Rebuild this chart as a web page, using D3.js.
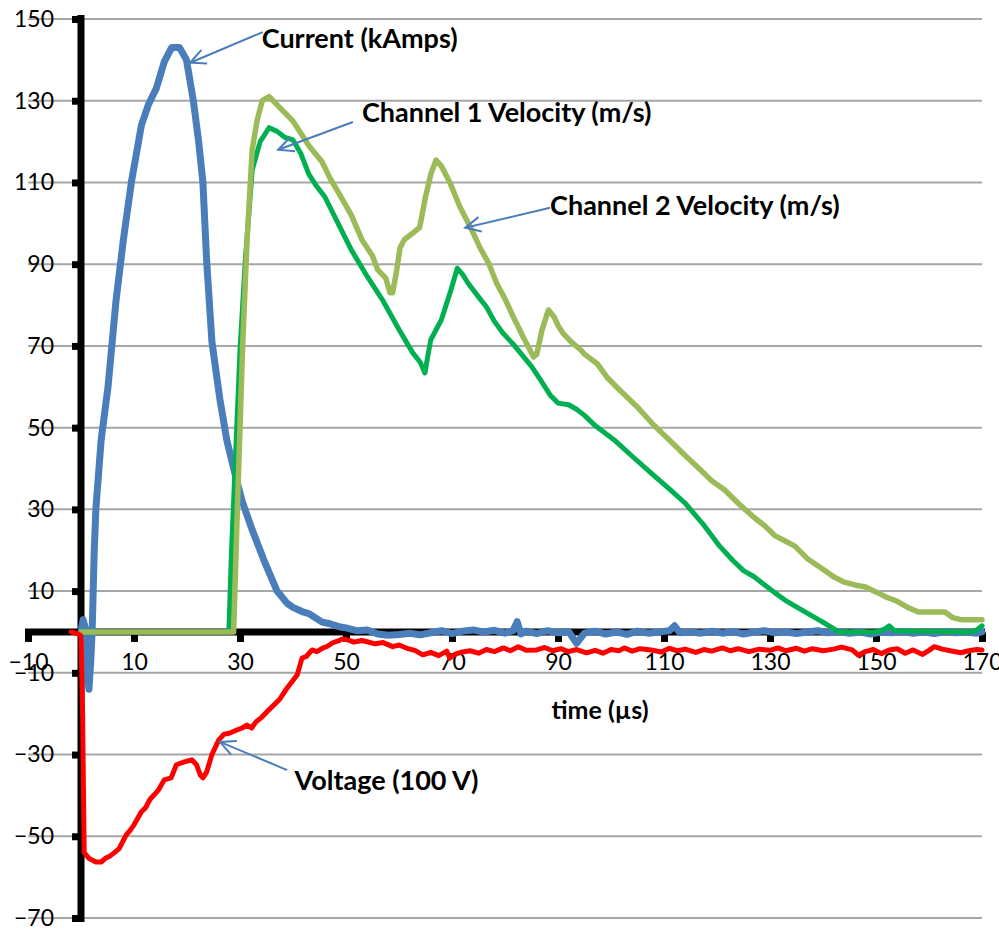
<!DOCTYPE html>
<html>
<head>
<meta charset="utf-8">
<script src="https://cdn.jsdelivr.net/npm/d3@7/dist/d3.min.js"></script>
<style>
    html, body { margin: 0; padding: 0; background: #fff; }
    svg { display: block; font-family: Lato, 'Open Sans', sans-serif; }
</style>
</head>
<body>
<div id="chart"></div>
<script>
(function () {
    'use strict';

    // [time (us), value]
    var current = [
        [0, 0], [0.4, 3], [0.8, 1], [1.2, -10], [1.5, -14], [1.8, -8], [2.1, 0], [2.5, 20], [2.8, 30],
        [3.8, 47], [5.1, 60], [6.6, 81], [8, 96], [9.5, 110], [11.4, 124], [12.7, 129], [14.2, 133],
        [15.7, 139.5], [17.1, 143], [18.6, 143], [19.9, 140], [21.2, 130], [22.2, 120], [23, 110],
        [23.7, 91], [24.7, 71], [26.2, 57], [27.5, 47], [28.8, 40], [30.4, 32], [32.3, 25], [34.5, 17.6],
        [37, 10], [38.9, 7], [40, 6], [41.7, 5], [43, 4.5], [45.5, 2.4], [47, 2], [49, 1.2], [50, 1],
        [52, 0.3], [54, 0.5], [56, -0.5], [58, -0.8], [60, -0.6], [62, -0.3], [64, -0.7], [66, -0.2],
        [68, 0.3], [70, -0.4], [72, 0.2], [74, 0.5], [76, 0], [78, 0.4], [80, -0.3], [81.5, 0.3],
        [82.3, 2.5], [83, -0.5], [84, 0.2], [86, -0.4], [88, 0.3], [90, -0.2], [92, 0.1], [93.5, -2.8],
        [95, -0.3], [97, 0.2], [99, -0.5], [101, 0], [103, -0.6], [105, 0.2], [107, -0.3], [109, 0],
        [111, 0.3], [112, 1.5], [113, -0.2], [115, 0], [117, -0.3], [119, 0.2], [121, -0.3], [123, 0.1],
        [125, -0.5], [127, 0], [129, 0.3], [131, -0.2], [133, 0], [135, -0.4], [137, 0], [139, 0.3],
        [141, -0.2], [143, 0.1], [145, -0.3], [147, 0], [149, -0.5], [151, 0], [153, -0.2], [155, 0.1],
        [157, -0.3], [159, 0], [161, -0.4], [163, 0.1], [165, -0.2], [167, 0], [169, -0.3], [170, 0]
    ];

    var channel1 = [
        [0, 0], [27.9, 0], [28.4, 20], [28.8, 32], [30, 69], [31, 91], [32.3, 113], [33.8, 120],
        [35.5, 123.4], [37, 122.5], [38.5, 121], [40, 120.4], [41.5, 117], [43, 112], [44.5, 109],
        [46, 106.5], [48.5, 100], [51, 93.5], [54, 87], [57, 81], [60, 74], [62.6, 68.3], [64, 66],
        [64.9, 63.4], [65.5, 68], [66, 71.5], [68, 76.4], [69.8, 83.7], [71, 89], [72, 87.5], [73, 85.4],
        [75, 82], [76.5, 79.5], [78, 76], [79.7, 73], [81.5, 70.5], [82.9, 68.3], [85, 65], [86.7, 61.7],
        [88.5, 58], [90, 56], [92, 55.6], [93.5, 54.5], [95, 53], [97, 50.5], [100.6, 47], [104, 43],
        [108, 38.4], [111, 35], [114, 31.5], [117.6, 26], [120.5, 21], [123, 17.5], [125, 15],
        [127, 13.5], [129, 11.5], [131, 9.5], [132.8, 7.8], [134.5, 6.5], [136.6, 4.9], [138.5, 3.5],
        [140.5, 2], [143, 0], [150, 0], [151.5, 0.6], [152.5, 1.5], [153.5, 0.3], [168, 0], [169, 0.5],
        [170, 1.5]
    ];

    var channel2 = [
        [0, 0], [28.8, 0], [29.5, 30], [30.5, 70], [31.3, 95], [32.3, 118], [33.2, 125], [34.2, 130],
        [35.5, 131], [37, 129], [38.5, 127], [40, 125], [41, 123], [43, 119], [45.5, 115], [47, 111],
        [48.8, 107], [51, 102], [53, 96], [55, 92], [56, 88.6], [57.5, 86.6], [58.3, 83], [58.8, 83],
        [59.5, 88], [60.2, 94], [61, 96], [62.5, 97.5], [63.9, 99], [65, 106.5], [66, 112], [67, 115.5],
        [68, 114], [69.6, 110], [71.5, 104], [73.5, 99], [75.3, 94], [77, 90], [78.4, 85.4], [80, 81.5],
        [81.6, 77], [83.5, 72], [85.4, 67.3], [86, 68], [87, 74], [88.2, 78.8], [89.3, 77], [90, 75],
        [91, 73], [92.5, 71], [94.3, 69], [95, 68], [96, 67], [97.5, 65.5], [99.2, 62.4], [101, 60],
        [103, 57.5], [105, 55], [108, 50.7], [111, 47], [113.9, 43.3], [117, 39.5], [119, 37],
        [121.4, 34.8], [124, 31.5], [127, 28], [129, 26], [131, 23.5], [132.5, 22.5], [134.7, 21],
        [137, 18], [140.4, 15], [142, 13.5], [144, 12.2], [146, 11.5], [148, 11], [150.5, 9.5], [152, 8.5],
        [154, 7.5], [156, 6], [158, 4.9], [160, 4.9], [163, 4.9], [164.5, 3.5], [166, 3], [170, 3]
    ];

    var voltage = [
        [-1.9, 0], [-0.5, -0.5], [0, -1], [0.3, -20], [0.6, -54], [1.5, -55.4], [2.8, -56.3], [3.8, -56.3],
        [4.7, -55.3], [5.5, -54.8], [6.3, -54], [7.2, -53], [8.5, -49.7], [9.3, -48.5], [10, -47.2],
        [11.4, -44], [12.2, -43], [13, -41], [14.6, -38.7], [15.7, -36.2], [17, -35.7], [18, -32.5],
        [19.5, -31.8], [20.9, -31.3], [21.8, -32.5], [22.5, -35], [23, -35.7], [23.7, -34.3], [24.7, -30],
        [26, -26.4], [27, -25], [28, -24.8], [29.4, -24], [30.4, -23.5], [31.3, -22.8], [32.2, -23.5],
        [33, -22], [34, -21], [35.5, -19], [37.4, -16.6], [38.9, -13.7], [40.2, -11.5], [40.8, -10.5],
        [41.7, -6.4], [42.5, -6], [43.6, -4.4], [44.5, -4.8], [45.5, -4], [46.5, -3.5], [47.4, -2.7],
        [48.5, -2.2], [49.3, -1.7], [50.5, -2], [51.5, -2.5], [53, -2.1], [54, -2.4], [55.5, -2.9],
        [57, -2.6], [58.8, -3.6], [60, -3.2], [61.5, -4], [63, -4.5], [64.5, -5.6], [66, -5], [67.5, -5.8],
        [69, -4.7], [69.6, -6.4], [70.5, -5.5], [72, -4.9], [73.4, -4.6], [75, -5.2], [76.5, -4.3],
        [78, -4.8], [79.7, -3.9], [81, -4.6], [82.5, -3.6], [84, -4.5], [86, -4.4], [87.5, -3.8],
        [89, -4.6], [90.5, -4.1], [92, -4.8], [93.5, -4.3], [95.4, -5.1], [97, -4.5], [98.5, -5.2],
        [100, -4.3], [101.5, -4.6], [102.5, -3.9], [104, -4.7], [105.5, -4.1], [107.6, -4.4], [109.5, -4.9],
        [111, -4], [112.5, -4.6], [114, -4.2], [116, -5], [117.5, -4.3], [119, -4.7], [121, -3.9],
        [122.5, -4.6], [124, -4.1], [126, -4.8], [128, -4.2], [130, -4.5], [131.5, -3.9], [133, -4.6],
        [135, -4], [136.5, -4.7], [138, -4.1], [140, -4.6], [142, -4.2], [143.5, -3.7], [145.5, -4.4],
        [146.7, -5.7], [148, -4.8], [149.5, -4.3], [151, -5.3], [152.5, -4.4], [154, -4.1], [155.5, -5.2],
        [157, -4.4], [158.8, -5.5], [160, -4.5], [161, -3.6], [162.5, -4.2], [164, -4.6], [166, -5.1],
        [167.5, -4.6], [169, -4.3], [170, -4.4]
    ];

    var xTicks = [-10, 10, 30, 50, 70, 90, 110, 130, 150, 170],
        yTicks = [-70, -50, -30, -10, 10, 30, 50, 70, 90, 110, 130, 150];

    // label text, text anchor [t, v], arrow tail [t, v], arrow tip [t, v]
    var labels = ['Current (kAmps)', 'Channel 1 Velocity (m/s)', 'Channel 2 Velocity (m/s)', 'Voltage (100 V)'],
        labelAt = [[34.1, 143], [53, 124.8], [88.5, 102], [40.3, -38.7]],
        arrowFrom = [[34.3, 146.8], [51.3, 124.8], [88.5, 103.8], [38.9, -33.8]],
        arrowTo = [[20.6, 139.3], [37.2, 118], [72.5, 98.9], [26.2, -26.9]];

    var width = 999,
        height = 929,
        left = 28,
        right = 982,
        top = 19,
        bottom = 918,
        blue = '#4a7ebb';

    var x = d3.scaleLinear().domain([-10, 170]).range([left, right]),
        y = d3.scaleLinear().domain([-70, 150]).range([bottom, top]);

    var svg = d3.select('#chart').append('svg')
        .attr('width', width)
        .attr('height', height);

    // gridlines
    svg.append('g')
        .selectAll('line')
        .data(yTicks)
        .enter()
        .append('line')
        .attr('x1', left)
        .attr('x2', right)
        .attr('y1', function (d) { return y(d); })
        .attr('y2', function (d) { return y(d); })
        .attr('stroke', '#a6a6a6')
        .attr('stroke-width', 2);

    // y axis, crossing at t = 0
    var yAxis = svg.append('g')
        .attr('transform', 'translate(' + x(0) + ',0)')
        .call(d3.axisLeft(y).tickValues(yTicks).tickSize(9).tickPadding(18));
    yAxis.select('.domain').remove();
    yAxis.selectAll('.tick line').attr('stroke', '#000').attr('stroke-width', 7);
    yAxis.selectAll('.tick text')
        .attr('fill', '#000')
        .style('font-size', '23px')
        .style('font-family', 'Lato, sans-serif');
    yAxis.append('line')
        .attr('y1', y(151))
        .attr('y2', y(-71))
        .attr('stroke', '#000')
        .attr('stroke-width', 7);

    // x axis, crossing at v = 0
    var xAxis = svg.append('g')
        .attr('transform', 'translate(0,' + y(0) + ')')
        .call(d3.axisBottom(x).tickValues(xTicks).tickSize(10).tickPadding(12));
    xAxis.select('.domain').remove();
    xAxis.selectAll('.tick line').attr('stroke', '#000').attr('stroke-width', 7);
    xAxis.selectAll('.tick text')
        .attr('fill', '#000')
        .style('font-size', '23px')
        .style('font-family', 'Lato, sans-serif');
    xAxis.append('line')
        .attr('x1', x(-10) - 3)
        .attr('x2', x(170) + 3)
        .attr('stroke', '#000')
        .attr('stroke-width', 7);

    svg.append('text')
        .attr('x', 600)
        .attr('y', 719)
        .attr('text-anchor', 'middle')
        .style('font-size', '25px')
        .style('font-weight', 'bold')
        .text('time (\u00b5s)');

    // series
    var line = d3.line()
        .x(function (d) { return x(d[0]); })
        .y(function (d) { return y(d[1]); });

    var series = [
        { data: current, color: blue, w: 7 },
        { data: channel1, color: '#00b050', w: 5 },
        { data: channel2, color: '#9bbb59', w: 5.5 },
        { data: voltage, color: '#ff0000', w: 5 }
    ];

    svg.append('g')
        .selectAll('path')
        .data(series)
        .enter()
        .append('path')
        .attr('d', function (d) { return line(d.data); })
        .attr('fill', 'none')
        .attr('stroke', function (d) { return d.color; })
        .attr('stroke-width', function (d) { return d.w; })
        .attr('stroke-linejoin', 'round')
        .attr('stroke-linecap', 'round');

    // annotations with open arrowheads
    var notes = svg.append('g');
    labels.forEach(function (txt, i) {
        var x1 = x(arrowFrom[i][0]), y1 = y(arrowFrom[i][1]),
            x2 = x(arrowTo[i][0]), y2 = y(arrowTo[i][1]),
            ang = Math.atan2(y1 - y2, x1 - x2),
            len = 17,
            spread = 0.45;

        notes.append('line')
            .attr('x1', x1).attr('y1', y1)
            .attr('x2', x2).attr('y2', y2)
            .attr('stroke', blue)
            .attr('stroke-width', 2);
        notes.append('path')
            .attr('d', 'M' + (x2 + len * Math.cos(ang - spread)) + ',' + (y2 + len * Math.sin(ang - spread)) +
                'L' + x2 + ',' + y2 +
                'L' + (x2 + len * Math.cos(ang + spread)) + ',' + (y2 + len * Math.sin(ang + spread)))
            .attr('fill', 'none')
            .attr('stroke', blue)
            .attr('stroke-width', 2);
        notes.append('text')
            .attr('x', x(labelAt[i][0]))
            .attr('y', y(labelAt[i][1]))
            .style('font-size', '27px')
            .style('font-weight', 'bold')
            .text(txt);
    });
}());
</script>
</body>
</html>
